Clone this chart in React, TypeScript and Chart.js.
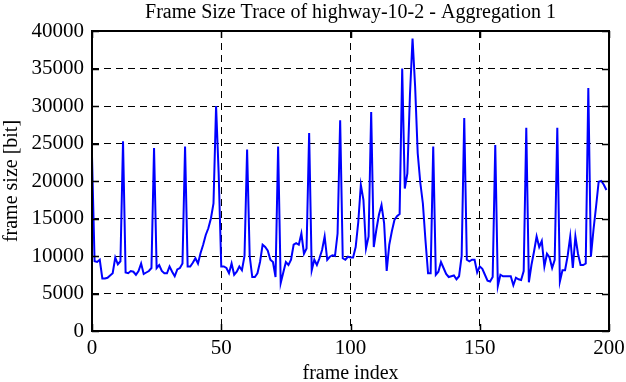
import React, { useEffect, useRef } from "react";
import { Chart, registerables } from "chart.js";

Chart.register(...registerables);

const TITLE = "Frame Size Trace of highway-10-2 - Aggregation 1";
const X_TITLE = "frame index";
const Y_TITLE = "frame size [bit]";
const X_TICKS = [0, 50, 100, 150, 200];
const Y_TICKS = [0, 5000, 10000, 15000, 20000, 25000, 30000, 35000, 40000];

// frame sizes in bit, frames 0..199
const FRAME_SIZES = [
  23300, 9300, 9200, 9500, 7000, 7000, 7100, 7400, 7700, 9800, 8900, 9300,
  25300, 7800, 7700, 8000, 7900, 7500, 8000, 9000, 7600, 7800, 8000, 8400,
  24400, 8400, 8800, 8000, 7700, 7700, 8600, 7900, 7300, 8200, 8400, 9000,
  24600, 8600, 8600, 9100, 9700, 9000, 10400, 11500, 12800, 13700, 15000, 17000,
  30000, 21000, 8600, 8600, 8400, 7700, 9000, 7500, 7900, 8600, 8100, 10000,
  24200, 10000, 7200, 7200, 7700, 9200, 11500, 11200, 10700, 9500, 9200, 7200,
  24600, 6400, 7800, 9200, 8800, 9500, 11500, 11700, 11500, 13000, 10300, 11000,
  26400, 8100, 9500, 8800, 9700, 10800, 12600, 9500, 9900, 10100, 10000, 13000,
  28100, 9700, 9500, 9900, 9800, 9800, 11200, 14500, 19500, 17500, 11000, 12600,
  29200, 11200, 13500, 15500, 16800, 14400, 8000, 11500, 13300, 14800, 15300, 15600,
  35000, 19000, 21000, 31500, 39000, 32600, 23700, 19800, 17000, 12100, 7700, 7700,
  24600, 7500, 7900, 9200, 8400, 7600, 7200, 7300, 7400, 6900, 7300, 10000,
  28400, 9500, 9300, 9500, 9500, 7800, 8600, 8300, 7500, 6700, 6600, 7200,
  24800, 6000, 7500, 7300, 7300, 7300, 7300, 6100, 7100, 6900, 6800, 8000,
  27100, 6500, 8800, 10600, 12600, 11200, 12000, 8600, 10300, 9800, 8400, 9500,
  27100, 6600, 8100, 8100, 10000, 12600, 8400, 12600, 10300, 8800, 8800, 9000,
  32400, 9900, 13500, 16600, 19900, 20000, 19500, 18800,
];

const FONT_FAMILY = "'Liberation Serif', 'DejaVu Serif', serif";
const TICK_LEN = 7;

const plotTitle = {
  id: "plotTitle",
  afterDraw(chart: any) {
    const { ctx, chartArea } = chart;
    ctx.save();
    ctx.fillStyle = "#000";
    ctx.font = `20px ${FONT_FAMILY}`;
    ctx.textAlign = "center";
    ctx.textBaseline = "alphabetic";
    ctx.fillText(TITLE, (chartArea.left + chartArea.right) / 2, 18);
    ctx.restore();
  },
};

const frameBox = {
  id: "frameBox",
  afterDatasetsDraw(chart: any) {
    const { ctx, chartArea, scales } = chart;
    const { left, right, top, bottom } = chartArea;
    const xs = scales.x;
    const ys = scales.y;
    ctx.save();
    ctx.strokeStyle = "#000";
    ctx.setLineDash([]);
    ctx.lineWidth = 1.5;
    ctx.beginPath();
    for (const v of Y_TICKS) {
      const py = Math.round(ys.getPixelForValue(v)) + 0.5;
      ctx.moveTo(left, py);
      ctx.lineTo(left + TICK_LEN, py);
      ctx.moveTo(right, py);
      ctx.lineTo(right - TICK_LEN, py);
    }
    for (const v of X_TICKS) {
      const px = Math.round(xs.getPixelForValue(v)) + 0.5;
      ctx.moveTo(px, bottom);
      ctx.lineTo(px, bottom - TICK_LEN);
      ctx.moveTo(px, top);
      ctx.lineTo(px, top + TICK_LEN);
    }
    ctx.stroke();
    ctx.lineWidth = 2;
    ctx.strokeRect(left, top, right - left, bottom - top);
    ctx.restore();
  },
};

export default function App() {
  const canvasRef = useRef<HTMLCanvasElement | null>(null);

  useEffect(() => {
    const canvas = canvasRef.current;
    if (!canvas) return;
    const points = FRAME_SIZES.map((v, i) => ({ x: i, y: v }));
    const innerGrid = (edgeMin: number, edgeMax: number) => (ctx: any) => {
      const v = ctx.tick ? ctx.tick.value : null;
      return v === edgeMin || v === edgeMax ? "rgba(0,0,0,0)" : "#000";
    };
    const chart = new Chart(canvas, {
      type: "line",
      data: {
        datasets: [
          {
            data: points,
            borderColor: "#0000ff",
            borderWidth: 2,
            pointRadius: 0,
            tension: 0,
            fill: false,
          },
        ],
      },
      options: {
        responsive: false,
        animation: false,
        maintainAspectRatio: false,
        layout: { padding: { left: 0, right: 17, top: 31, bottom: 0 } },
        plugins: {
          legend: { display: false },
          tooltip: { enabled: false },
          title: { display: false },
        },
        scales: {
          x: {
            type: "linear",
            min: 0,
            max: 200,
            afterBuildTicks: (scale: any) => {
              scale.ticks = X_TICKS.map((v) => ({ value: v }));
            },
            afterFit: (scale: any) => {
              scale.height = 51;
              scale.paddingLeft = 0;
              scale.paddingRight = 0;
            },
            ticks: {
              color: "#000",
              font: { family: FONT_FAMILY, size: 21, lineHeight: 1.2 },
              padding: 5,
              maxRotation: 0,
              autoSkip: false,
              callback: (v: any) => String(v),
            },
            grid: {
              color: innerGrid(0, 200),
              lineWidth: 1,
              drawTicks: false,
            },
            border: { display: false, dash: [7, 5] },
            title: {
              display: true,
              text: X_TITLE,
              color: "#000",
              font: { family: FONT_FAMILY, size: 20, lineHeight: 1 },
              padding: { top: 0, bottom: -2 },
            },
          },
          y: {
            type: "linear",
            min: 0,
            max: 40000,
            afterBuildTicks: (scale: any) => {
              scale.ticks = Y_TICKS.map((v) => ({ value: v }));
            },
            afterFit: (scale: any) => {
              scale.width = 92;
              scale.paddingTop = 0;
              scale.paddingBottom = 0;
            },
            ticks: {
              color: "#000",
              font: { family: FONT_FAMILY, size: 21 },
              padding: 8,
              autoSkip: false,
              callback: (v: any) => String(v),
            },
            grid: {
              color: innerGrid(0, 40000),
              lineWidth: 1,
              drawTicks: false,
            },
            border: { display: false, dash: [7, 5] },
            title: {
              display: true,
              text: Y_TITLE,
              color: "#000",
              font: { family: FONT_FAMILY, size: 20, lineHeight: 1.2 },
              padding: { top: 0, bottom: 0 },
            },
          },
        },
      },
      plugins: [frameBox, plotTitle],
    });
    return () => chart.destroy();
  }, []);

  return (
    <div
      style={{
        position: "fixed",
        left: 0,
        top: 0,
        width: 626,
        height: 382,
        background: "#fff",
      }}
    >
      <canvas ref={canvasRef} width={626} height={382} style={{ display: "block" }} />
    </div>
  );
}
